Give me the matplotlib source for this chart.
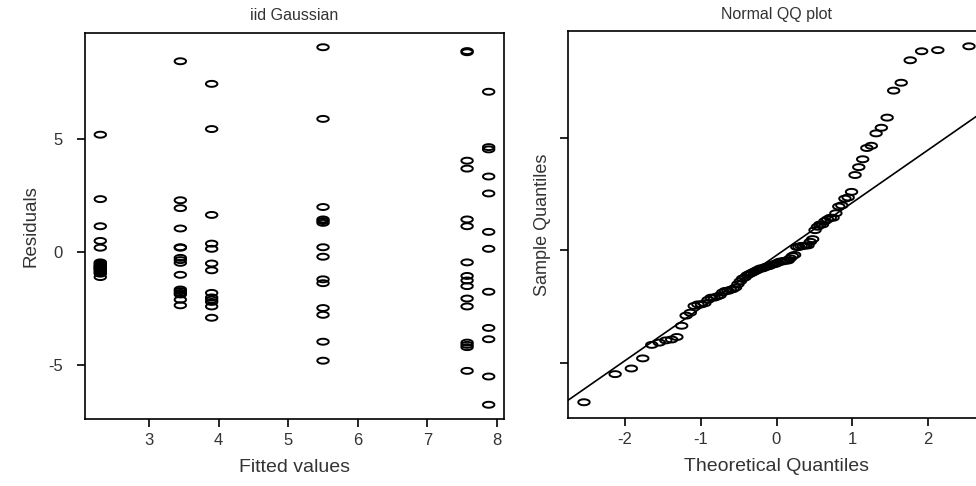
import numpy as np
import matplotlib
matplotlib.use("Agg")
import matplotlib.pyplot as plt
from matplotlib.path import Path
from statistics import NormalDist

# fitted value of each group and the residuals read for it
fitted = [2.3, 3.45, 3.9, 5.5, 7.57, 7.88]
res_g1 = [5.2, 2.35, 1.15, 0.5, 0.2, -0.45, -0.5, -0.55, -0.6, -0.62, -0.65,
          -0.7, -0.72, -0.75, -0.8, -0.85, -0.9, -0.95, -1.1]
res_g2 = [8.45, 2.3, 1.95, 1.05, 0.22, 0.2, -0.25, -0.35, -0.47, -1.0, -1.65,
          -1.72, -1.8, -1.87, -2.1, -2.35]
res_g3 = [7.45, 5.45, 1.65, 0.38, 0.15, -0.5, -0.8, -1.8, -2.0, -2.1, -2.2,
          -2.4, -2.9]
res_g4 = [9.07, 5.9, 2.0, 1.45, 1.38, 1.3, 0.22, -0.2, -1.2, -1.37, -2.47,
          -2.77, -3.96, -4.8]
res_g5 = [8.9, 8.85, 4.05, 3.7, 1.45, 1.15, -0.45, -1.05, -1.25, -1.5, -2.05,
          -2.4, -4.0, -4.1, -4.2, -5.25]
res_g6 = [7.1, 4.65, 4.55, 3.35, 2.6, 0.9, 0.15, -1.75, -3.35, -3.85, -5.5,
          -6.75]
groups = [res_g1, res_g2, res_g3, res_g4, res_g5, res_g6]

x_fit = np.concatenate([[f] * len(g) for f, g in zip(fitted, groups)])
resid = np.concatenate(groups)

# normal QQ (like R's qqnorm / qqline)
n = len(resid)
nd = NormalDist()
p = (np.arange(1, n + 1) - 0.5) / n
theo = np.array([nd.inv_cdf(v) for v in p])
samp = np.sort(resid)
q1, q3 = np.quantile(resid, [0.25, 0.75])
t1, t3 = nd.inv_cdf(0.25), nd.inv_cdf(0.75)
slope = (q3 - q1) / (t3 - t1)
icpt = q1 - slope * t1

# open ellipse marker (the circles look squashed in the reference)
th = np.linspace(0, 2 * np.pi, 60)
ell = Path(np.column_stack([np.cos(th), 0.52 * np.sin(th)]))

txt = '#333333'
plt.rcParams['font.family'] = ['Liberation Sans', 'DejaVu Sans']
plt.rcParams['axes.unicode_minus'] = False

fig = plt.figure(figsize=(9.76, 4.86), dpi=100)
ax1 = fig.add_axes([85 / 976, 1 - 419 / 486, 419 / 976, 386 / 486])
ax2 = fig.add_axes([568 / 976, 1 - 418 / 486, 417 / 976, 387 / 486])

for ax in (ax1, ax2):
    for s in ax.spines.values():
        s.set_linewidth(1.2)
    ax.tick_params(direction='out', length=6, width=1.2, labelsize=12,
                   labelcolor=txt, pad=4)

ax1.scatter(x_fit, resid, marker=ell, s=68, facecolors='none',
            edgecolors='black', linewidths=1.4)
ax1.set_xlim(2.08, 8.1)
ax1.set_ylim(-7.38, 9.7)
ax1.set_xticks([3, 4, 5, 6, 7, 8])
ax1.set_yticks([-5, 0, 5])
ax1.tick_params(axis='y', pad=10)
ax1.set_xlabel('Fitted values', fontsize=14, color=txt, labelpad=8)
ax1.set_ylabel('Residuals', fontsize=13.5, color=txt, labelpad=6)
ax1.set_title('iid Gaussian', fontsize=11.5, color=txt, pad=9)

ax2.scatter(theo, samp, marker=ell, s=68, facecolors='none',
            edgecolors='black', linewidths=1.4, zorder=3)
xl = np.array([-2.75, 2.75])
ax2.plot(xl, icpt + slope * xl, color='black', lw=1.2)
ax2.set_xlim(-2.75, 2.75)
ax2.set_ylim(-7.45, 9.75)
ax2.set_xticks([-2, -1, 0, 1, 2])
ax2.set_yticks([-5, 0, 5])
ax2.set_yticklabels([])
ax2.set_xlabel('Theoretical Quantiles', fontsize=14, color=txt, labelpad=8)
ax2.set_ylabel('Sample Quantiles', fontsize=13, color=txt, labelpad=2)
ax2.set_title('Normal QQ plot', fontsize=11.5, color=txt, pad=9)

fig.savefig('out.png', dpi=100)
